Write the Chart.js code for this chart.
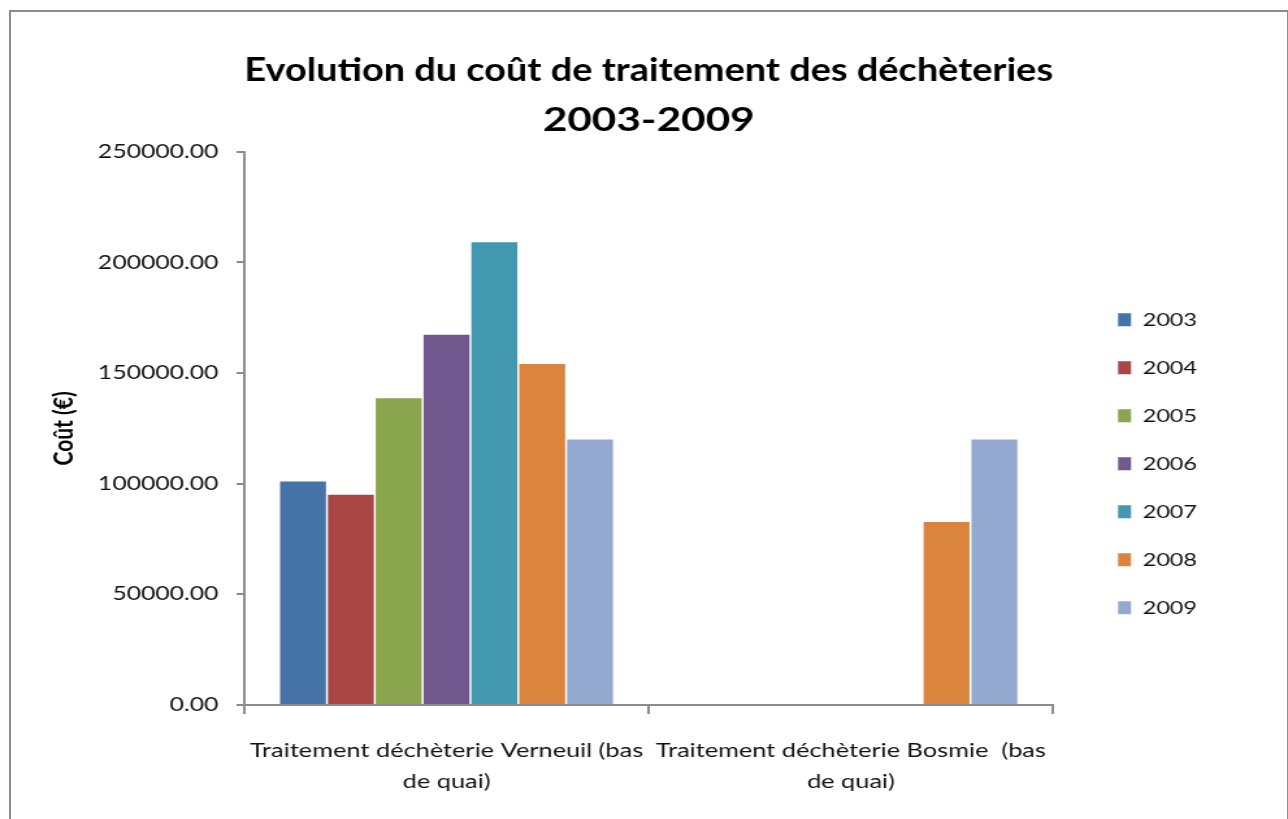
<!DOCTYPE html>
<html>
<head>
<meta charset="utf-8">
<script src="https://cdn.jsdelivr.net/npm/chart.js@4"></script>
<style>
    body { margin: 0; background: #fff; overflow: hidden; }
    #frame { position: absolute; left: 9px; top: 10px; width: 1276px; height: 900px; border: 2px solid #8c8c8c; }
    #chart { position: absolute; left: 0; top: 0; }
</style>
</head>
<body>
<div id="frame"></div>
<!-- the original picture is stretched sideways, so the canvas is drawn narrower and widened by its inline style -->
<canvas id="chart" width="991" height="819" style="width: 1288px; height: 819px;"></canvas>
<script>
// Categories (x axis labels, wrapped like the original)
const sites = [
    ['Traitement déchèterie Verneuil (bas', 'de quai)'],
    ['Traitement déchèterie Bosmie  (bas', 'de quai)'],
];

// Yearly costs per site (€)
const years = ['2003', '2004', '2005', '2006', '2007', '2008', '2009'];
const cost2003 = [101000, null];
const cost2004 = [95000, null];
const cost2005 = [138600, null];
const cost2006 = [167300, null];
const cost2007 = [209100, null];
const cost2008 = [154100, 82700];
const cost2009 = [120000, 120000];
const yearColors = ['#4572A7', '#AA4643', '#89A54E', '#71588F', '#4198AF', '#DB843D', '#93A9CF'];

const yTicks = [0, 50000, 100000, 150000, 200000, 250000];

const font = 'Lato, "Open Sans", sans-serif';
const allCosts = [cost2003, cost2004, cost2005, cost2006, cost2007, cost2008, cost2009];

const datasets = years.map((year, i) => ({
    label: year,
    data: allCosts[i],
    backgroundColor: yearColors[i],
    borderWidth: 0,
    categoryPercentage: 0.828,
    barPercentage: 0.96,
}));

const ctx = document.getElementById('chart').getContext('2d');
new Chart(ctx, {
    type: 'bar',
    data: { labels: sites, datasets },
    options: {
        responsive: false,
        animation: false,
        layout: { padding: { left: 0, right: 60, top: 0, bottom: 1 } },
        plugins: {
            title: {
                display: true,
                fullSize: false,
                text: ['Evolution du coût de traitement des déchèteries', '2003-2009'],
                color: '#000',
                font: { family: font, size: 32.5, weight: 'bold', lineHeight: 1.55 },
                padding: { top: 45, bottom: 6 },
            },
            legend: {
                position: 'right',
                fullSize: false,
                title: { display: true, text: ' ', font: { size: 10 }, padding: { top: 0, bottom: 59 } },
                labels: {
                    color: '#111',
                    font: { family: font, size: 18 },
                    boxWidth: 10,
                    boxHeight: 13,
                    padding: 30,
                },
            },
            tooltip: { enabled: false },
        },
        scales: {
            x: {
                grid: { offset: true, drawOnChartArea: false, color: '#8c8c8c', lineWidth: 2, tickLength: 9 },
                border: { color: '#8c8c8c', width: 2 },
                ticks: {
                    color: '#111',
                    font: { family: font, size: 19.5, lineHeight: 1.59 },
                    padding: 21,
                    maxRotation: 0,
                    autoSkip: false,
                },
            },
            y: {
                min: 0,
                max: 250000,
                afterBuildTicks: (axis) => { axis.ticks = yTicks.map((v) => ({ value: v })); },
                afterFit: (axis) => { axis.width = 188; },
                grid: { drawOnChartArea: false, color: '#8c8c8c', lineWidth: 2, tickLength: 6 },
                border: { color: '#8c8c8c', width: 2 },
                ticks: {
                    color: '#111',
                    font: { family: font, size: 19 },
                    padding: 14,
                    callback: (value) => value.toFixed(2),
                },
                title: {
                    display: true,
                    text: 'Coût (€)',
                    color: '#000',
                    font: { family: font, size: 21, weight: 'bold' },
                    padding: { top: 37, bottom: 0 },
                },
            },
            // empty spacer between the plot and the legend
            gap: {
                position: 'right',
                display: true,
                grid: { display: false },
                border: { display: false },
                ticks: { display: false },
                afterFit: (axis) => { axis.width = 20; },
            },
        },
    },
});
</script>
</body>
</html>
